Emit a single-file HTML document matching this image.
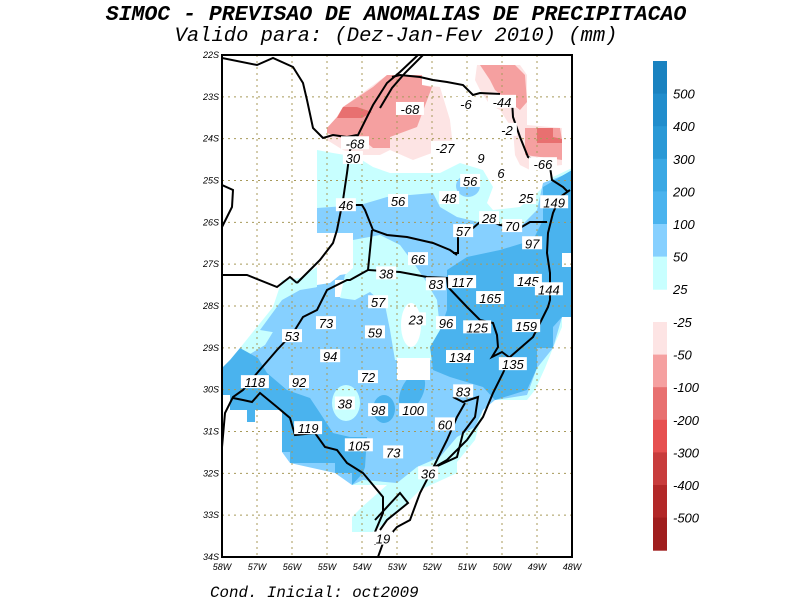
<!DOCTYPE html>
<html><head><meta charset="utf-8"><style>
html,body{margin:0;padding:0;background:#fff;width:792px;height:612px;overflow:hidden}
svg{display:block}
.lbl{font-family:"Liberation Sans",sans-serif;font-style:italic;font-size:13px;fill:#000}
.ax{font-family:"Liberation Sans",sans-serif;font-style:italic;font-size:9px;fill:#000}
.cb{font-family:"Liberation Sans",sans-serif;font-style:italic;font-size:13px;fill:#000}
</style></head><body>
<svg id="chart" width="792" height="612" viewBox="0 0 792 612">
<text x="396" y="20" text-anchor="middle" font-family="Liberation Mono,monospace" font-style="italic" font-weight="bold" font-size="21.5">SIMOC - PREVISAO DE ANOMALIAS DE PRECIPITACAO</text>
<text x="396" y="41" text-anchor="middle" font-family="Liberation Mono,monospace" font-style="italic" font-size="20.5">Valido para: (Dez-Jan-Fev 2010) (mm)</text>
<text x="210" y="597" font-family="Liberation Mono,monospace" font-style="italic" font-size="15.8">Cond. Inicial: oct2009</text>
<defs><clipPath id="mapclip"><rect x="222" y="55" width="350" height="502"/></clipPath></defs>
<g clip-path="url(#mapclip)">
 <!-- cyan 25-50 -->
 <path fill="#c8ffff" d="M317,150 L333,153 L357,157 L373,167 L390,173 L440,173 L460,163 L483,170 L493,187 L487,203 L493,210 L520,207 L537,193 L553,177 L572,168 L572,317 L562,317 L562,327 L553,348 L545,368 L535,390 L527,400 L495,400 L483,410 L475,440 L457,462 L457,473 L420,490 L395,515 L373,532 L352,532 L352,517 L362,507 L387,485 L352,485 L352,473 L335,473 L335,463 L290,463 L290,452 L282,452 L282,410 L255,410 L255,422 L247,422 L247,410 L230,410 L230,395 L222,395 L222,368 L230,360 L240,348 L265,317 L273,307 L282,280 L300,278 L320,265 L353,240 L353,273 L340,275 L330,283 L317,285 L317,150 Z"/>
 <!-- light blue 50-100 -->
 <path fill="#86d0ff" d="M317,208 L360,205 L387,197 L433,193 L440,207 L457,217 L478,222 L520,227 L537,210 L543,183 L572,172 L572,317 L562,317 L553,348 L537,368 L527,395 L495,400 L483,410 L475,427 L457,437 L440,457 L417,467 L397,483 L363,480 L352,485 L335,473 L290,463 L282,452 L282,410 L255,410 L247,410 L230,395 L240,360 L265,345 L282,317 L300,295 L317,287 L317,208 Z"/>
 <path fill="#86d0ff" d="M260,330 L282,300 L300,290 L330,285 L340,300 L290,335 Z"/>
 <path fill="#fff" d="M317,233 L353,233 L353,273 L340,275 L330,283 L317,285 Z"/>
 <path fill="#fff" d="M335,280 L352,280 L352,297 L335,297 Z"/>
 <!-- cyan inside -->
 <path fill="#c8ffff" d="M353,240 L380,235 L400,245 L415,265 L425,280 L437,300 L440,330 L435,360 L395,360 L390,330 L385,305 L370,292 L355,300 L340,298 L345,275 L353,268 Z"/>
 <ellipse fill="#c8ffff" cx="346" cy="403" rx="14" ry="18"/>
 <ellipse fill="#86d0ff" cx="468" cy="186" rx="12" ry="11"/>
 <!-- medium blue 100-200 -->
 <path fill="#4ab3ee" d="M447,270 L467,257 L500,250 L533,240 L543,220 L543,187 L572,170 L572,317 L562,317 L553,327 L553,348 L537,348 L537,368 L527,390 L495,400 L483,387 L450,377 L433,370 L430,347 L440,330 L447,310 Z"/>
 <path fill="#4ab3ee" d="M222,368 L230,360 L240,348 L258,358 L267,373 L287,390 L310,398 L320,413 L333,433 L350,437 L367,437 L365,467 L363,473 L352,485 L352,473 L335,473 L335,463 L290,463 L290,452 L282,452 L282,410 L255,410 L255,422 L247,422 L247,410 L230,410 L230,395 L222,395 Z"/>
 <ellipse fill="#4ab3ee" cx="384" cy="409" rx="11" ry="14"/>
 <ellipse fill="#4ab3ee" cx="412" cy="392" rx="11" ry="20" transform="rotate(25 412 392)"/>
 <!-- white holes -->
 <ellipse fill="#fff" cx="411" cy="325" rx="10" ry="22"/>
 <rect fill="#fff" x="397" y="358" width="33" height="22"/>
 <rect fill="#fff" x="562" y="253" width="10" height="14"/>
 <!-- pinks -->
 <path fill="#fde4e4" d="M327,128 L337,117 L343,107 L387,75 L422,75 L422,85 L440,87 L450,120 L453,147 L440,150 L413,160 L390,150 L380,155 L357,155 L343,150 L327,140 Z"/>
 <path fill="#f5a0a0" d="M387,75 L422,75 L422,85 L432,87 L417,127 L390,137 L390,148 L373,148 L367,143 L347,140 L327,133 L327,128 L337,117 L343,107 L373,87 Z"/>
 <path fill="#e87070" d="M343,107 L357,107 L372,112 L362,118 L337,118 Z"/>
 <path fill="#fde4e4" d="M477,65 L520,65 L527,75 L527,125 L562,128 L562,165 L545,167 L530,170 L520,165 L515,155 L513,130 L500,110 L490,105 L480,90 L475,80 Z"/>
 <path fill="#f5a0a0" d="M480,65 L515,65 L525,75 L527,102 L520,110 L507,100 L495,90 L490,80 Z"/>
 <path fill="#f5a0a0" d="M525,128 L560,128 L562,140 L562,160 L540,157 L525,155 Z"/>
 <path fill="#e87070" d="M537,128 L553,128 L553,137 L562,139 L562,143 L537,143 Z"/>
</g>
<g id="grid"></g>
<g clip-path="url(#mapclip)" fill="none" stroke="#000" stroke-width="2">
 <polyline points="222,58 257,65 273,58 293,67 303,83 307,100 313,128 323,138 333,135 347,137 357,135"/>
 <polyline points="418,55 400,72 387,83 373,105 357,137 350,150 347,173 343,200 337,230 333,243 320,260 307,273 297,283"/>
 <polyline points="423,55 405,73 392,88 380,108"/>
 <polyline points="392,77 400,75 420,77 433,80 447,82 463,85 473,95 480,93 500,94"/>
 <polyline points="512,100 513,117 520,137 528,157 550,167 552,180 563,187 568,192"/>
 <polyline points="570,190 560,197 553,213 548,233 547,253 550,273 550,300 548,307 533,337 510,357 503,373 493,393 483,417 467,440 447,460 433,468 420,493 410,520 397,527 383,543 378,557"/>
 <polyline points="547,222 530,222 520,228 500,225 493,222 480,222 473,228 458,235 458,253 453,253"/>
 <polyline points="337,205 362,205 365,210 373,230 387,235 407,237 433,243 450,250 457,255"/>
 <polyline points="372,230 368,270 400,272 427,277 447,278 448,287 467,307 480,320 493,323 497,335 498,347 492,357 502,352 510,358"/>
 <polyline points="368,270 350,280 347,280 327,290 317,310 303,317 293,333 277,350 258,372 243,390 233,397 225,413 222,447"/>
 <polyline points="233,398 243,400 252,402 260,393 277,407 290,418 295,435 315,433 325,447 337,450 347,463 363,473 373,485 383,497 383,513 375,532 375,545"/>
 <polyline points="375,520 400,493 408,503 387,520 380,530"/>
 <polyline points="453,397 463,402 478,397 475,417 463,433 457,457 433,468 447,440 457,417 465,403"/>
 <polyline points="222,185 233,190 232,207 222,227"/>
 <polyline points="222,275 247,275 277,287 290,277 297,283"/>
</g>
<g id="labels"></g>
<rect x="222" y="55" width="350" height="502" fill="none" stroke="#000" stroke-width="2"/>
<g id="axes"></g>
<g id="colorbar"></g>
</svg>
<script>
const latTicks=[22,23,24,25,26,27,28,29,30,31,32,33,34];
const lonTicks=[58,57,56,55,54,53,52,51,50,49,48];
const labelValues=[-68,-6,-44,-2,-68,-27,-66,30,9,6,56,48,56,46,25,149,28,70,57,97,66,38,83,117,145,144,165,57,73,23,96,125,159,53,59,94,134,135,72,118,92,83,38,98,100,60,119,105,73,36,19];
const labelLons=[52.63,51.03,50.0,49.86,54.2,51.63,48.83,54.26,50.6,50.03,50.91,51.51,52.97,54.46,49.31,48.51,50.37,49.71,51.11,49.14,52.4,53.31,51.89,51.14,49.26,48.66,50.34,53.54,55.03,52.46,51.6,50.71,49.31,56.0,53.63,54.91,51.2,49.69,53.83,57.06,55.8,51.11,54.49,53.54,52.54,51.63,55.54,54.09,53.11,52.11,53.4];
const labelLats=[23.29,23.17,23.12,23.79,24.11,24.22,24.61,24.46,24.46,24.82,25.01,25.42,25.49,25.59,25.42,25.52,25.9,26.09,26.21,26.5,26.88,27.22,27.48,27.43,27.4,27.6,27.81,27.91,28.41,28.32,28.41,28.51,28.48,28.72,28.63,29.2,29.22,29.39,29.7,29.82,29.82,30.04,30.33,30.49,30.49,30.83,30.92,31.33,31.5,32.0,33.56];
const bluLevels=["500","400","300","200","100","50","25"];
const bluColors=["#1a82c0","#218dcc","#2a99d6","#3aa8e4","#4ab3ee","#86d0ff","#c8ffff"];
const redLevels=["-25","-50","-100","-200","-300","-400","-500"];
const redColors=["#fde4e4","#f5a0a0","#e87070","#e65050","#c83c3c","#b22828","#a01e1e"];
const NS="http://www.w3.org/2000/svg";
const X0=222,X1=572,Y0=55,Y1=557;
function xOf(lon){return X0+(58-lon)*(X1-X0)/10;}
function yOf(lat){return Y0+(lat-22)*(Y1-Y0)/12;}
function mk(tag,attrs,parent){const e=document.createElementNS(NS,tag);for(const k in attrs)e.setAttribute(k,attrs[k]);parent.appendChild(e);return e;}
const grid=document.getElementById('grid');
latTicks.forEach(v=>{if(v===22||v===34)return;const l=mk('line',{x1:X0,x2:X1,y1:yOf(v),y2:yOf(v),stroke:'#a89a5a','stroke-width':1,'stroke-dasharray':'2,4'},grid);

});
lonTicks.forEach(v=>{if(v===58||v===48)return;const l=mk('line',{x1:xOf(v),x2:xOf(v),y1:Y0,y2:Y1,stroke:'#a89a5a','stroke-width':1,'stroke-dasharray':'2,4'},grid);

});
const axes=document.getElementById('axes');
latTicks.forEach(v=>{const t=mk('text',{x:X0-3,y:yOf(v)+3,'text-anchor':'end',class:'ax'},axes);t.textContent=v+'S';

});
lonTicks.forEach(v=>{const t=mk('text',{x:xOf(v),y:Y1+13,'text-anchor':'middle',class:'ax'},axes);t.textContent=v+'W';

});
const lg=document.getElementById('labels');
labelValues.forEach((v,i)=>{const cx=xOf(labelLons[i]),cy=yOf(labelLats[i]);const s=String(v);const w=s.length*8+4;
const r=mk('rect',{x:cx-w/2,y:cy-7,width:w,height:13,fill:'#fff'},lg);


const t=mk('text',{x:cx,y:cy+5,'text-anchor':'middle',class:'lbl'},lg);t.textContent=s;

});
const cb=document.getElementById('colorbar');
const bTop=61,bStep=32.6,rTop=322,CX=653,CW=14;
bluColors.forEach((c,i)=>{const r=mk('rect',{x:CX,y:bTop+i*bStep,width:CW,height:bStep+0.5,fill:c},cb);


const t=mk('text',{x:CX+20,y:bTop+(i+1)*bStep+5,class:'cb'},cb);t.textContent=bluLevels[i];

});
redColors.forEach((c,i)=>{const r=mk('rect',{x:CX,y:rTop+i*bStep,width:CW,height:bStep+0.5,fill:c},cb);


const t=mk('text',{x:CX+20,y:rTop+i*bStep+5,class:'cb'},cb);t.textContent=redLevels[i];

});
</script>
</body></html>
